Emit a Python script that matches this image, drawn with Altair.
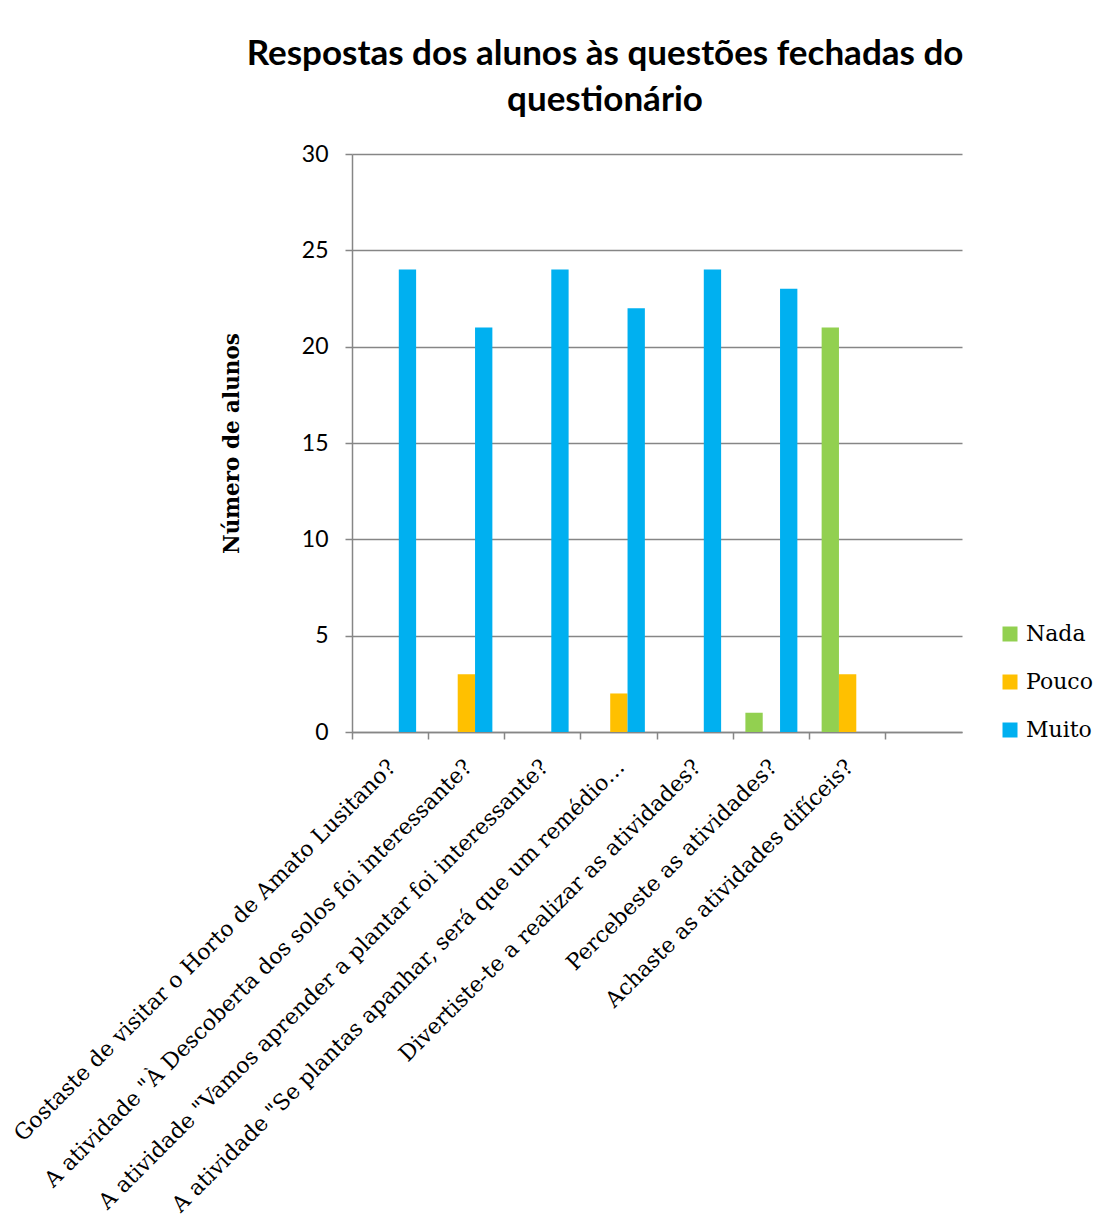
import altair as alt
import pandas as pd

categories = [
    "Gostaste de visitar o Horto de Amato Lusitano?",
    "A atividade \"À Descoberta dos solos foi interessante?",
    "A atividade \"Vamos aprender a plantar foi interessante?",
    "A atividade \"Se plantas apanhar, será  que um remédio…",
    "Divertiste-te a realizar as atividades?",
    "Percebeste as atividades?",
    "Achaste as atividades difíceis?",
    "",
]
series = ["Nada", "Pouco", "Muito"]
nada = [0, 0, 0, 0, 0, 1, 21, None]
pouco = [0, 3, 0, 2, 0, 0, 3, None]
muito = [24, 21, 24, 22, 24, 23, 0, None]
colors = ["#92D050", "#FFC000", "#00B0F0"]
y_ticks = [0, 5, 10, 15, 20, 25, 30]

rows = []
for i, q in enumerate(categories):
    for s, vals in zip(series, [nada, pouco, muito]):
        if vals[i] is not None:
            rows.append({"questao": q, "serie": s, "valor": vals[i]})
df = pd.DataFrame(rows)

grey = "#868686"

chart = alt.Chart(df).mark_bar().encode(
    x=alt.X(
        "questao:N",
        scale=alt.Scale(domain=categories, paddingInner=0, paddingOuter=0),
        axis=alt.Axis(
            title=None, labelAngle=-45, labelAlign="right", labelBaseline="middle",
            labelFont="DejaVu Serif", labelFontSize=22, labelColor="black",
            labelLimit=1000, labelOverlap=False, labelPadding=24, labelOffset=2,
            bandPosition=0, tickSize=7, tickColor=grey, tickWidth=1.5,
            domainColor=grey, domainWidth=1.5, grid=False,
        ),
    ),
    xOffset=alt.XOffset(
        "serie:N",
        scale=alt.Scale(domain=series, paddingInner=0, paddingOuter=0.7),
    ),
    y=alt.Y(
        "valor:Q",
        scale=alt.Scale(domain=[0, 30], nice=False),
        axis=alt.Axis(
            values=y_ticks, title="Número de alunos", titleFont="DejaVu Serif",
            titleFontSize=21.5, titleFontWeight="bold", titleColor="black",
            titlePadding=58, labelFont="Lato", labelFontSize=23, labelColor="black",
            labelPadding=17, tickSize=7, tickColor=grey, tickWidth=1.5,
            domainColor=grey, domainWidth=1.5, gridColor=grey, gridWidth=1.5,
        ),
    ),
    color=alt.Color(
        "serie:N",
        scale=alt.Scale(domain=series, range=colors),
        legend=alt.Legend(
            title=None, orient="none", legendX=647, legendY=469,
            symbolType="square", symbolSize=225, symbolStrokeWidth=0,
            labelFont="DejaVu Serif", labelFontSize=22, labelColor="black",
            rowPadding=26, labelOffset=5,
        ),
    ),
).properties(
    width=610,
    height=578,
    autosize=alt.AutoSizeParams(type="none"),
    padding={"left": 344, "top": 146, "right": 140, "bottom": 485},
    title=alt.TitleParams(
        text=["Respostas dos alunos às questões fechadas do", "questionário"],
        font="Lato", fontSize=35, fontWeight="bold", color="black",
        anchor="middle", frame="group", dx=-52, offset=25, lineHeight=46,
    ),
).configure_view(strokeWidth=0)

chart.save("out.html", embed_options={"renderer": "svg", "actions": False})
